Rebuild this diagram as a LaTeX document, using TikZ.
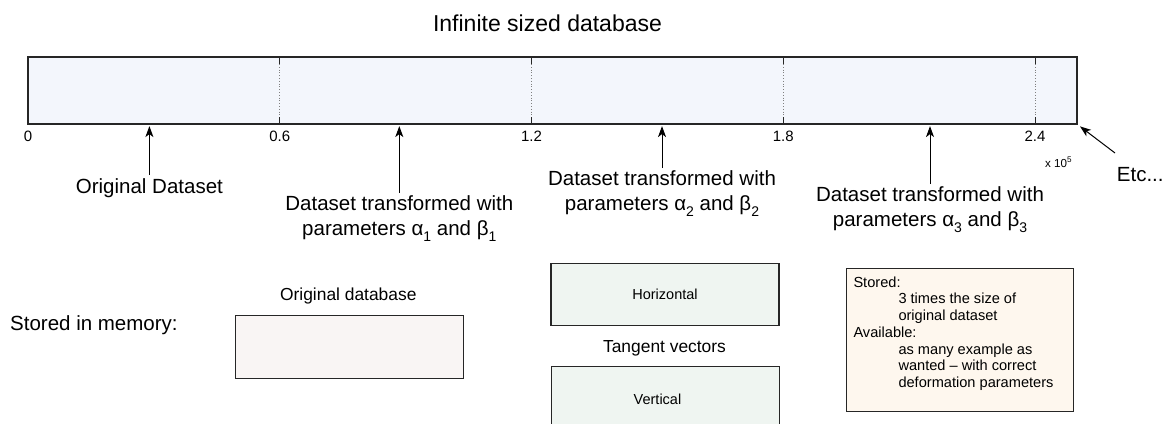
\documentclass[tikz,border=0pt]{standalone}
\usepackage{fontspec}
\setmainfont{Liberation Sans}
\usetikzlibrary{arrows.meta}

\definecolor{barfill}{RGB}{243,246,252}
\definecolor{origfill}{RGB}{249,245,244}
\definecolor{tanfill}{RGB}{239,245,241}
\definecolor{notefill}{RGB}{254,247,238}

\newcommand{\lowidx}[1]{\raisebox{-6pt}{\fontsize{14}{14}\selectfont #1}}

\begin{document}
\begin{tikzpicture}[
    x=1pt, y=-1pt,
    bar/.style={draw=black!85, fill=barfill, line width=1.2pt, inner sep=0pt, minimum width=1049pt, minimum height=67pt},
    membox/.style={draw=black!85, line width=1.2pt, inner sep=0pt, minimum width=228pt, font=\fontsize{14.5}{17}\selectfont},
    lbl/.style={font=\fontsize{20.5}{25.5}\selectfont, align=center, inner sep=0pt},
    sublbl/.style={font=\fontsize{17.4}{20}\selectfont, inner sep=0pt, anchor=base},
    ticklbl/.style={font=\fontsize{15}{18}\selectfont, inner sep=0pt, anchor=base},
    tickmark/.style={line width=1pt, black!85},
    gridline/.style={dotted, gray, line width=0.8pt},
    arr/.style={-{Stealth[length=11pt, width=8pt, inset=3pt]}, line width=1pt, shorten >=1.5pt},
  ]
    \useasboundingbox (0,0) rectangle (1164,423);
    \clip (0,0) rectangle (1164,423);

    % Title and database bar
    \node[font=\fontsize{23}{27}\selectfont, inner sep=0pt, anchor=base] (title) at (547.5,31.7) {Infinite sized database};
    \node[bar] (bar) at (552.5,90.5) {};

    % Ticks
    \draw[gridline] (279.8,64) -- (279.8,117);
    \draw[gridline] (531.5,64) -- (531.5,117);
    \draw[gridline] (783.3,64) -- (783.3,117);
    \draw[gridline] (1035,64) -- (1035,117);
    \draw[tickmark] (279.8,57) -- ++(0,7) (279.8,124) -- ++(0,-7);
    \draw[tickmark] (531.5,57) -- ++(0,7) (531.5,124) -- ++(0,-7);
    \draw[tickmark] (783.3,57) -- ++(0,7) (783.3,124) -- ++(0,-7);
    \draw[tickmark] (1035,57) -- ++(0,7) (1035,124) -- ++(0,-7);

    % Tick labels
    \node[ticklbl] (t0) at (28,141.7) {0};
    \node[ticklbl] (t06) at (279.8,141.7) {0.6};
    \node[ticklbl] (t12) at (531.5,141.7) {1.2};
    \node[ticklbl] (t18) at (783.3,141.7) {1.8};
    \node[ticklbl] (t24) at (1035,141.7) {2.4};
    \node[font=\fontsize{11.6}{14}\selectfont, inner sep=0pt, anchor=base west] (scale) at (1045,167.3) {x 10\textsuperscript{5}};

    % Labels under the bar
    \node[lbl, anchor=base] (orig) at (149.4,193.3) {Original Dataset};
    \node[lbl, anchor=north] (ds1) at (399.3,195) {Dataset transformed with\\parameters α\lowidx{1} and β\lowidx{1}};
    \node[lbl, anchor=north] (ds2) at (662,170) {Dataset transformed with\\parameters α\lowidx{2} and β\lowidx{2}};
    \node[lbl, anchor=north] (ds3) at (930,186) {Dataset transformed with\\parameters α\lowidx{3} and β\lowidx{3}};
    \node[lbl, anchor=base west] (etc) at (1116.7,181.7) {Etc...};
    \coordinate (etctail) at (1115,153);

    % Arrows
    \draw[arr] ([yshift=3pt]orig.north) -- (orig.north |- bar.south);
    \draw[arr] ([yshift=2pt]ds1.north) -- (ds1.north |- bar.south);
    \draw[arr] ([yshift=2pt]ds2.north) -- (ds2.north |- bar.south);
    \draw[arr] ([yshift=2pt]ds3.north) -- (ds3.north |- bar.south);
    \draw[arr, shorten >=3pt] (etctail) -- (bar.south east);

    % Stored in memory
    \node[lbl, anchor=base west] (stored) at (10,330.5) {Stored in memory:};
    \node[sublbl] (origtitle) at (348.3,300.7) {Original database};
    \node[membox, fill=origfill, minimum height=62.6pt] (origdb) at (349.3,347) {};

    % Tangent vectors
    \node[membox, fill=tanfill, minimum height=62.4pt] (horiz) at (665,294.5) {Horizontal};
    \node[sublbl] (tangent) at (664.5,352.3) {Tangent vectors};
    \node[membox, fill=tanfill, minimum height=80pt, anchor=north west] (vert) at (551,365.7) {};
    \node[font=\fontsize{14.5}{17}\selectfont, inner sep=0pt, anchor=base] (verttxt) at (657.5,404.3) {Vertical};

    % Note
    \node[draw=black!85, fill=notefill, line width=1.2pt, inner sep=0pt, minimum width=227pt, minimum height=143pt, anchor=north west] (note) at (845.7,267.7) {};
    \node[font=\fontsize{14.6}{16.7}\selectfont, align=left, inner sep=0pt, anchor=north west] (notetxt) at (853.3,276.5) {Stored:\\
      \hspace*{45pt}3 times the size of\\
      \hspace*{45pt}original dataset\\
      Available:\\
      \hspace*{45pt}as many example as\\
      \hspace*{45pt}wanted – with correct\\
      \hspace*{45pt}deformation parameters};
  \end{tikzpicture}
\end{document}
